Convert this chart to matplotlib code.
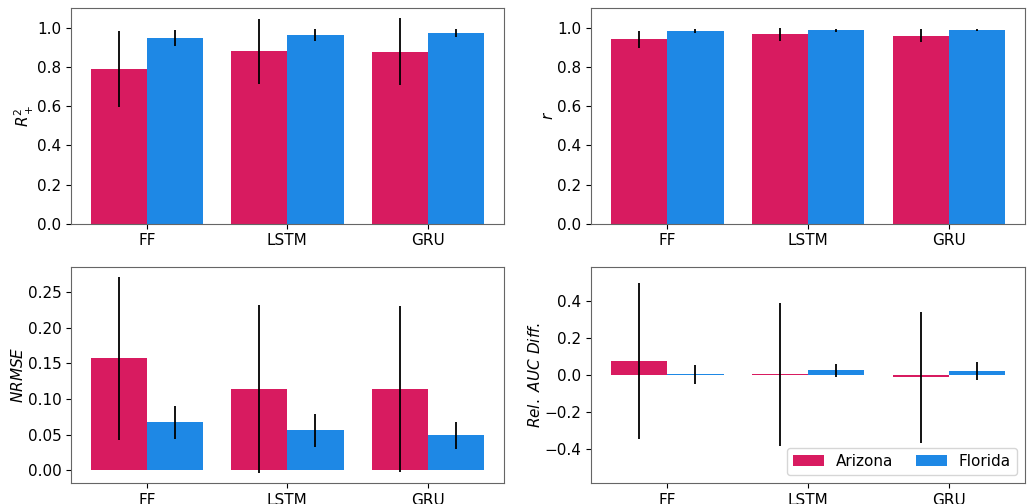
import matplotlib
matplotlib.use("Agg")
import matplotlib.pyplot as plt
import numpy as np

# modelos e series
modelos = ["FF", "LSTM", "GRU"]
estados = ["Arizona", "Florida"]
cores = ["#D81B60", "#1E88E5"]

# R2+
r2_arizona = [0.79, 0.88, 0.878]
r2_arizona_err = [0.193, 0.165, 0.17]
r2_florida = [0.948, 0.963, 0.972]
r2_florida_err = [0.04, 0.03, 0.02]

# r
r_arizona = [0.94, 0.966, 0.96]
r_arizona_err = [0.045, 0.032, 0.035]
r_florida = [0.983, 0.986, 0.99]
r_florida_err = [0.01, 0.008, 0.005]

# NRMSE
nrmse_arizona = [0.157, 0.114, 0.114]
nrmse_arizona_err = [0.114, 0.118, 0.116]
nrmse_florida = [0.067, 0.056, 0.049]
nrmse_florida_err = [0.023, 0.023, 0.019]

# Rel. AUC Diff.
auc_arizona = [0.075, 0.003, -0.012]
auc_arizona_err = [0.417, 0.385, 0.352]
auc_florida = [0.005, 0.025, 0.022]
auc_florida_err = [0.051, 0.035, 0.047]


def barras(ax, arizona, arizona_err, florida, florida_err, ylabel):
    x = np.arange(len(modelos))
    largura = 0.4
    ax.bar(x - largura / 2, arizona, largura, yerr=arizona_err, color=cores[0],
           label=estados[0], error_kw=dict(ecolor="black", lw=1.3))
    ax.bar(x + largura / 2, florida, largura, yerr=florida_err, color=cores[1],
           label=estados[1], error_kw=dict(ecolor="black", lw=1.3))
    ax.set_xticks(x)
    ax.set_xticklabels(modelos)
    ax.set_ylabel(ylabel, fontsize=11, labelpad=1)
    ax.tick_params(labelsize=11)
    for s in ax.spines.values():
        s.set_color("#666666")


fig = plt.figure(figsize=(10.3, 5.04), dpi=100)
ax1 = fig.add_axes([0.069, 0.556, 0.420, 0.428])
ax2 = fig.add_axes([0.574, 0.556, 0.421, 0.428])
ax3 = fig.add_axes([0.069, 0.042, 0.420, 0.428])
ax4 = fig.add_axes([0.574, 0.042, 0.421, 0.428])

barras(ax1, r2_arizona, r2_arizona_err, r2_florida, r2_florida_err, r"$R^2_+$")
ax1.set_ylim(0, 1.1)

barras(ax2, r_arizona, r_arizona_err, r_florida, r_florida_err, r"$r$")
ax2.set_ylim(0, 1.1)

barras(ax3, nrmse_arizona, nrmse_arizona_err, nrmse_florida, nrmse_florida_err, r"$NRMSE$")

barras(ax4, auc_arizona, auc_arizona_err, auc_florida, auc_florida_err, r"$Rel.\ AUC\ Diff.$")
ax4.set_ylim(-0.58, 0.58)
ax4.legend(loc="lower right", ncol=2, fontsize=11, columnspacing=1.5)

fig.savefig("out.png", dpi=100)
